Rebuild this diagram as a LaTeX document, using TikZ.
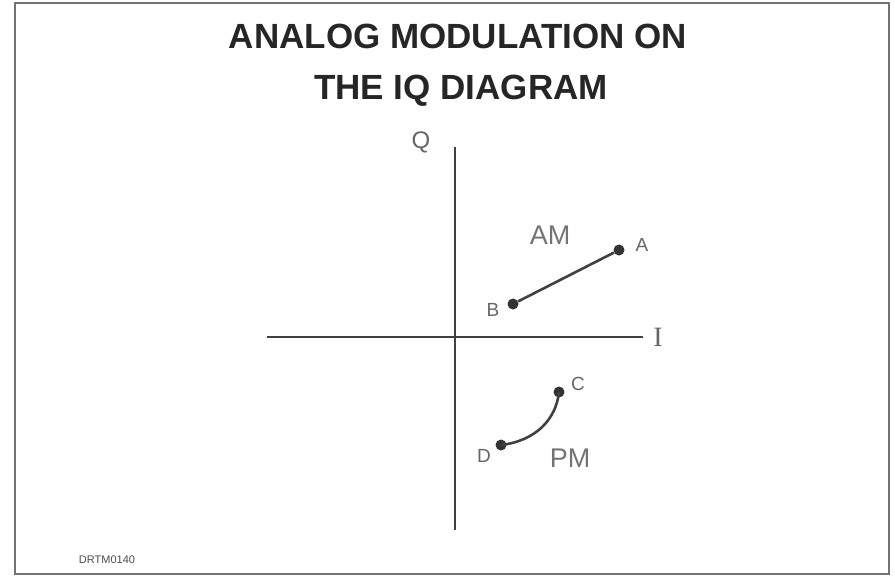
\documentclass[tikz,border=0pt]{standalone}
\usepackage{fontspec}
\setmainfont{Liberation Sans}
\newfontfamily\seriffont{Liberation Serif}

\begin{document}
\begin{tikzpicture}[x=1pt,y=-1pt,
  axis/.style={draw=black!75,line width=1.6pt},
  dot/.style={circle,fill=black!80,inner sep=0pt,minimum size=11pt},
  lab/.style={text=black!60,inner sep=0pt,font=\fontsize{19}{19}\selectfont},
  biglab/.style={text=black!55,inner sep=0pt,font=\fontsize{27}{27}\selectfont},
  title/.style={text=black!85,inner sep=0pt,font=\fontsize{35}{35}\selectfont\bfseries}]
  \useasboundingbox (0,0) rectangle (895,576);
  \draw[black!55,line width=2.2pt] (15,3) rectangle (889,574);
  % title
  \node[title] (t1) at (458,36) {ANALOG MODULATION ON};
  \node[title] (t2) at (461,91) {THE IQ DIAGRAM};
  % axes
  \coordinate (qtop) at (455,147);
  \coordinate (qbot) at (455,530);
  \coordinate (ileft) at (267,337);
  \coordinate (iright) at (643,337);
  \draw[axis] (qtop) -- (qbot);
  \draw[axis] (ileft) -- (iright);
  \node[lab,font=\fontsize{24}{24}\selectfont] (q) at (421,142) {Q};
  \node[lab,font=\fontsize{28}{28}\seriffont] (i) at (658,337) {I};
  % AM
  \node[dot] (A) at (619,250) {};
  \node[dot] (B) at (513,304) {};
  \draw[black!75,line width=2.6pt] (B) -- (A);
  \node[lab] at (642,245) {A};
  \node[lab] at (493,310) {B};
  \node[biglab] (am) at (550,235) {AM};
  % PM
  \node[dot] (C) at (559,392) {};
  \node[dot] (D) at (501,445) {};
  \draw[black!75,line width=2.6pt] (D.center) .. controls (535,441) and (556,420) .. (C.center);
  \node[lab] at (578,384) {C};
  \node[lab] at (484,456) {D};
  \node[biglab] (pm) at (570,458) {PM};
  \node[text=black!70,inner sep=0pt,font=\fontsize{11}{11}\selectfont] (code) at (107,560) {DRTM0140};
\end{tikzpicture}
\end{document}
